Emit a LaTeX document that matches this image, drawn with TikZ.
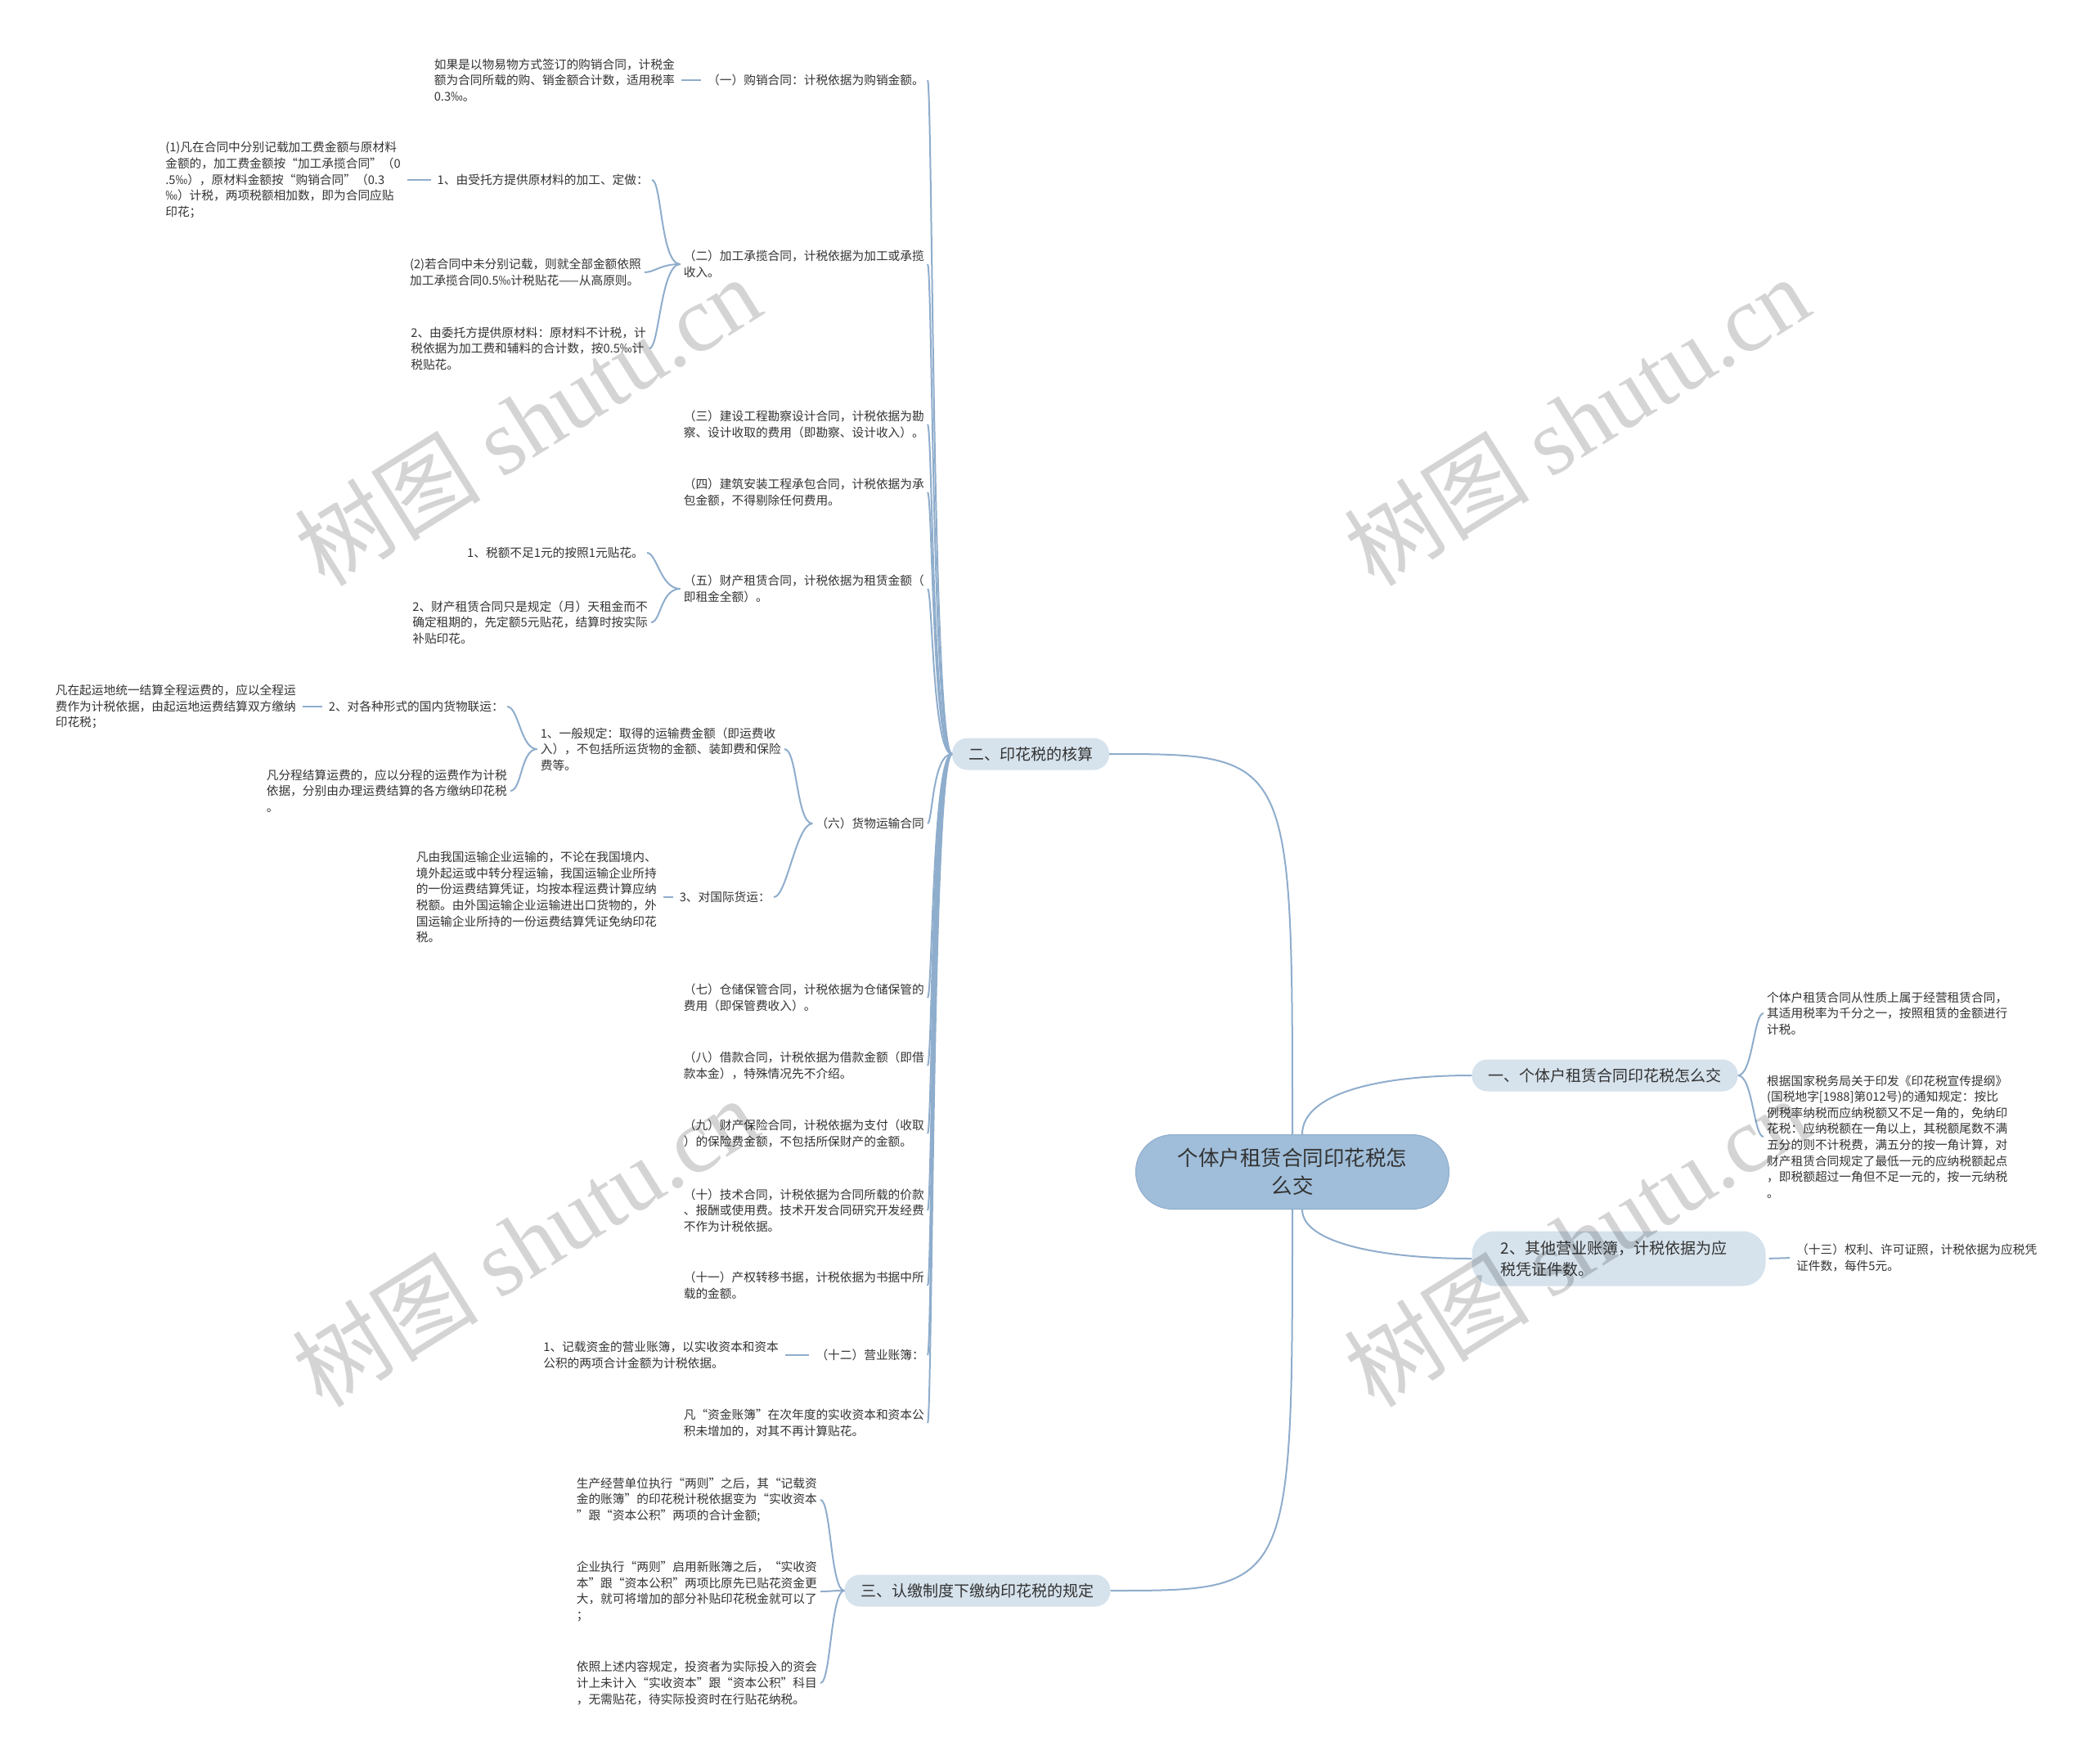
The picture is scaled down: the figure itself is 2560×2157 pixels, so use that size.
\documentclass[tikz,border=0pt]{standalone}
\usepackage{fontspec}
\setmainfont{Noto Sans CJK SC}
\newfontfamily\wmlat{Liberation Serif}
\usetikzlibrary{positioning,calc}
\definecolor{linec}{RGB}{143,173,204}
\definecolor{rootc}{RGB}{160,190,218}
\definecolor{topicc}{RGB}{214,226,236}
\definecolor{txtc}{RGB}{51,51,51}

\begin{document}
\begin{tikzpicture}[x=1pt,y=-1pt,
  link/.style={draw=linec,line width=2pt},
  tie/.style={link,shorten <=4pt,shorten >=4pt},
  leaf/.style={align=left,inner xsep=4pt,inner ysep=2pt,text=txtc,font=\fontsize{14.7}{19.6}\selectfont},
  lleaf/.style={leaf,anchor=east},
  rleaf/.style={leaf,anchor=west},
  topic/.style={fill=topicc,rounded corners=19pt,minimum height=39pt,inner xsep=20pt,text=txtc,font=\fontsize{19}{26}\selectfont},
  wm/.style={rotate=32,text=black,opacity=.17,font=\fontsize{114}{114}\selectfont}]
\fill[white] (0,0) rectangle (2560,2157);
\useasboundingbox (0,0) rectangle (2560,2157);

% centre and main topics
\node[fill=rootc,draw=linec,line width=1pt,rounded corners=45pt,minimum width=383pt,minimum height=91pt,align=center,text=txtc,font=\fontsize{25.5}{34}\selectfont] (tax) at (1580,1433) {个体户租赁合同印花税怎\\么交};
\node[topic] (acct) at (1260,922) {二、印花税的核算};
\node[topic] (how) at (1962,1315) {一、个体户租赁合同印花税怎么交};
\node[topic,rounded corners=28pt,minimum height=67pt,inner xsep=35pt,text width=289pt,align=left] (books) at (1979,1539) {2、其他营业账簿，计税依据为应\\税凭证件数。};
\node[topic] (reg) at (1195,1945) {三、认缴制度下缴纳印花税的规定};
\draw[link] (tax.north) .. controls (tax.north |- acct.east) .. (acct.east);
\draw[link] (tax.south) .. controls (tax.south |- reg.east) .. (reg.east);
\draw[link] ($(tax.north)+(12,0)$) .. controls +(0,-48) and +(-120,0) .. (how.west);
\draw[link] ($(tax.south)+(12,0)$) .. controls +(0,41) and +(-110,0) .. (books.west);

% right side
\node[rleaf] (r1) at (2156,1239) {个体户租赁合同从性质上属于经营租赁合同，\\其适用税率为千分之一，按照租赁的金额进行\\计税。};
\node[rleaf] (r2) at (2156,1390) {根据国家税务局关于印发《印花税宣传提纲》\\(国税地字[1988]第012号)的通知规定：按比\\例税率纳税而应纳税额又不足一角的，免纳印\\花税：应纳税额在一角以上，其税额尾数不满\\五分的则不计税费，满五分的按一角计算，对\\财产租赁合同规定了最低一元的应纳税额起点\\，即税额超过一角但不足一元的，按一元纳税\\。};
\node[rleaf] (r3) at (2192,1538) {（十三）权利、许可证照，计税依据为应税凭\\证件数，每件5元。};
\foreach \n in {r1,r2} \draw[link] (how.east) .. controls +(18,0) and +(-12,0) .. (\n.west);
\draw[tie] (books.east) -- (r3.west);

% 二、印花税的核算
\node[lleaf] (t1) at (1134,98) {（一）购销合同：计税依据为购销金额。};
\node[lleaf] (t2) at (1134,323) {（二）加工承揽合同，计税依据为加工或承揽\\收入。};
\node[lleaf] (t3) at (1134,519) {（三）建设工程勘察设计合同，计税依据为勘\\察、设计收取的费用（即勘察、设计收入）。};
\node[lleaf] (t4) at (1134,602) {（四）建筑安装工程承包合同，计税依据为承\\包金额，不得剔除任何费用。};
\node[lleaf] (t5) at (1134,720) {（五）财产租赁合同，计税依据为租赁金额（\\即租金全额）。};
\node[lleaf] (t6) at (1134,1007) {（六）货物运输合同};
\node[lleaf] (t7) at (1134,1220) {（七）仓储保管合同，计税依据为仓储保管的\\费用（即保管费收入）。};
\node[lleaf] (t8) at (1134,1303) {（八）借款合同，计税依据为借款金额（即借\\款本金），特殊情况先不介绍。};
\node[lleaf] (t9) at (1134,1386) {（九）财产保险合同，计税依据为支付（收取\\）的保险费金额，不包括所保财产的金额。};
\node[lleaf] (t10) at (1134,1480) {（十）技术合同，计税依据为合同所载的价款\\、报酬或使用费。技术开发合同研究开发经费\\不作为计税依据。};
\node[lleaf] (t11) at (1134,1572) {（十一）产权转移书据，计税依据为书据中所\\载的金额。};
\node[lleaf] (t12) at (1134,1657) {（十二）营业账簿：};
\node[lleaf] (t13) at (1134,1740) {凡“资金账簿”在次年度的实收资本和资本公\\积未增加的，对其不再计算贴花。};
\foreach \n in {t1,t2,t3,t4,t5,t6,t7,t8,t9,t10,t11,t12,t13}
  \draw[link] (acct.west) .. controls +(-24,0) and +(6,0) .. (\n.east);

\node[lleaf] (t1a) at (829,98) {如果是以物易物方式签订的购销合同，计税金\\额为合同所载的购、销金额合计数，适用税率\\0.3‰。};
\draw[tie] (t1.west) -- (t1a.east);

\node[lleaf] (t2a) at (797,220) {1、由受托方提供原材料的加工、定做：};
\node[lleaf] (t2a1) at (494,220) {(1)凡在合同中分别记载加工费金额与原材料\\金额的，加工费金额按“加工承揽合同”（0\\.5‰），原材料金额按“购销合同”（0.3\\‰）计税，两项税额相加数，即为合同应贴\\印花；};
\node[lleaf] (t2b) at (788,333) {(2)若合同中未分别记载，则就全部金额依照\\加工承揽合同0.5‰计税贴花——从高原则。};
\node[lleaf] (t2c) at (794,426) {2、由委托方提供原材料：原材料不计税，计\\税依据为加工费和辅料的合计数，按0.5‰计\\税贴花。};
\draw[tie] (t2a.west) -- (t2a1.east);
\foreach \n in {t2a,t2b,t2c} \draw[link] (t2.west) .. controls +(-24,0) and +(12,0) .. (\n.east);

\node[lleaf] (t5a) at (791,676) {1、税额不足1元的按照1元贴花。};
\node[lleaf] (t5b) at (796,761) {2、财产租赁合同只是规定（月）天租金而不\\确定租期的，先定额5元贴花，结算时按实际\\补贴印花。};
\foreach \n in {t5a,t5b} \draw[link] (t5.west) .. controls +(-24,0) and +(12,0) .. (\n.east);

\node[lleaf] (t6a) at (959,916) {1、一般规定：取得的运输费金额（即运费收\\入），不包括所运货物的金额、装卸费和保险\\费等。};
\node[lleaf] (t6b) at (946,1097) {3、对国际货运：};
\foreach \n in {t6a,t6b} \draw[link] (t6.west) .. controls +(-20,0) and +(16,0) .. (\n.east);
\node[lleaf] (t6a1) at (620,864) {2、对各种形式的国内货物联运：};
\node[lleaf] (t6a1a) at (366,864) {凡在起运地统一结算全程运费的，应以全程运\\费作为计税依据，由起运地运费结算双方缴纳\\印花税；};
\node[lleaf] (t6a2) at (624,967) {凡分程结算运费的，应以分程的运费作为计税\\依据，分别由办理运费结算的各方缴纳印花税\\。};
\draw[tie] (t6a1.west) -- (t6a1a.east);
\foreach \n in {t6a1,t6a2} \draw[link] (t6a.west) .. controls +(-20,0) and +(14,0) .. (\n.east);
\node[lleaf] (t6b1) at (807,1097) {凡由我国运输企业运输的，不论在我国境内、\\境外起运或中转分程运输，我国运输企业所持\\的一份运费结算凭证，均按本程运费计算应纳\\税额。由外国运输企业运输进出口货物的，外\\国运输企业所持的一份运费结算凭证免纳印花\\税。};
\draw[tie] (t6b.west) -- (t6b1.east);

\node[lleaf] (t12a) at (956,1657) {1、记载资金的营业账簿，以实收资本和资本\\公积的两项合计金额为计税依据。};
\draw[tie] (t12.west) -- (t12a.east);

% 三、认缴制度
\node[lleaf] (d1) at (1003,1834) {生产经营单位执行“两则”之后，其“记载资\\金的账簿”的印花税计税依据变为“实收资本\\”跟“资本公积”两项的合计金额;};
\node[lleaf] (d2) at (1003,1946) {企业执行“两则”启用新账簿之后，“实收资\\本”跟“资本公积”两项比原先已贴花资金更\\大，就可将增加的部分补贴印花税金就可以了\\；};
\node[lleaf] (d3) at (1003,2058) {依照上述内容规定，投资者为实际投入的资会\\计上未计入“实收资本”跟“资本公积”科目\\，无需贴花，待实际投资时在行贴花纳税。};
\foreach \n in {d1,d2,d3} \draw[link] (reg.west) .. controls +(-17,0) and +(13,0) .. (\n.east);

% watermark
\foreach \x/\y/\n in {645/514/w1,1927/514/w2,642/1518/w3,1927/1518/w4}
  \node[wm] (\n) at (\x,\y) {树图 {\wmlat shutu.cn}};
\end{tikzpicture}
\end{document}
